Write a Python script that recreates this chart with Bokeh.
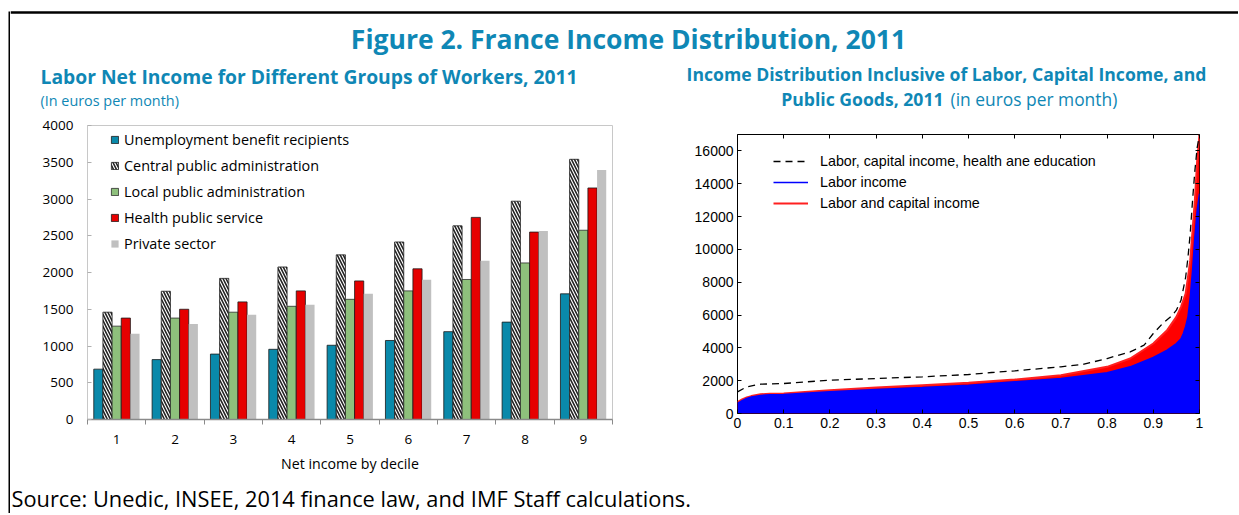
from bokeh.plotting import figure
from bokeh.models import (Range1d, Label, Span, Legend, LegendItem, FixedTicker,
                          ColumnDataSource, LinearAxis, CustomJSTickFormatter)
from bokeh.layouts import row, column
from bokeh.transform import dodge
from bokeh.embed import file_html
from bokeh.resources import INLINE

# ---------------- data: left chart ----------------
deciles = [1, 2, 3, 4, 5, 6, 7, 8, 9]
decile_bounds = [0.5, 1.5, 2.5, 3.5, 4.5, 5.5, 6.5, 7.5, 8.5, 9.5]
unemployment = [685, 815, 890, 955, 1010, 1075, 1195, 1325, 1710]
central = [1460, 1745, 1920, 2075, 2240, 2415, 2635, 2970, 3540]
local = [1270, 1380, 1460, 1540, 1635, 1750, 1905, 2130, 2575]
health = [1380, 1500, 1600, 1750, 1885, 2050, 2750, 2550, 3150]
private = [1165, 1300, 1425, 1560, 1710, 1900, 2160, 2565, 3395]
series_names = ["Unemployment benefit recipients", "Central public administration",
                "Local public administration", "Health public service", "Private sector"]
left_y_ticks = [0, 500, 1000, 1500, 2000, 2500, 3000, 3500, 4000]

# ---------------- data: right chart ----------------
percentile = [0, 0.01, 0.02, 0.03, 0.05, 0.07, 0.1, 0.2, 0.3, 0.4, 0.5, 0.6, 0.7, 0.8,
              0.85, 0.9, 0.93, 0.95, 0.96, 0.965, 0.97, 0.975, 0.98, 0.985, 0.99, 0.995, 1.0]
labor_income = [610, 780, 915, 1000, 1100, 1140, 1157, 1320, 1462, 1584, 1726, 1929, 2132, 2477,
                2843, 3411, 3858, 4264, 4550, 4873, 5300, 5888, 7100, 8730, 10760, 12386, 13400]
labor_capital_income = [700, 860, 975, 1060, 1170, 1205, 1218, 1421, 1584, 1726, 1868, 2071, 2335, 2843,
                        3350, 4264, 5076, 5888, 6497, 6900, 7300, 8300, 9343, 11168, 13000, 15431, 17000]
percentile_total = [0, 0.02, 0.05, 0.1, 0.2, 0.3, 0.4, 0.5, 0.55, 0.6, 0.7, 0.75, 0.8, 0.85,
                    0.88, 0.9, 0.92, 0.94, 0.95, 0.96, 0.97, 0.975, 0.98, 0.985, 0.99, 0.995, 1.0]
labor_capital_public = [1320, 1624, 1787, 1827, 2030, 2132, 2234, 2376, 2497, 2600, 2843, 3005, 3350,
                        3756, 4162, 4873, 5482, 5950, 6300, 6900, 8300, 9500, 11000, 13000, 14800, 16200, 17000]
right_y_ticks = [0, 2000, 4000, 6000, 8000, 10000, 12000, 14000, 16000]
right_x_ticks = [0, 0.1, 0.2, 0.3, 0.4, 0.5, 0.6, 0.7, 0.8, 0.9, 1.0]

# ---------------- styles ----------------
TEAL = "#0f87b5"
SANS = "Open Sans"
ARIAL = "Liberation Sans"

# ---------------- left border strip ----------------
strip = figure(width=10, height=513, output_backend="svg", toolbar_location=None,
               x_axis_type=None, y_axis_type=None, min_border=0, min_border_top=11,
               min_border_left=8, background_fill_color="black", border_fill_color="white",
               outline_line_color=None, frame_align=False)

# ---------------- header ----------------
head = figure(width=1228, height=115, output_backend="svg", toolbar_location=None,
              x_range=Range1d(0, 1228), y_range=Range1d(115, 0),
              x_axis_type=None, y_axis_type=None, min_border=0, outline_line_color=None,
              frame_align=False)
head.grid.visible = False
head.add_layout(Span(location=12, dimension="width", line_color="black", line_width=2.5))
head.add_layout(Label(x=618, y=38, text="Figure 2. France Income Distribution, 2011",
                      text_font=SANS, text_font_style="bold", text_font_size="26.5px",
                      text_color=TEAL, text_align="center", text_baseline="middle"))
head.add_layout(Label(x=30, y=76, text="Labor Net Income for Different Groups of Workers, 2011",
                      text_font=SANS, text_font_style="bold", text_font_size="19.3px",
                      text_color=TEAL, text_align="left", text_baseline="middle"))
head.add_layout(Label(x=30, y=100, text="(In euros per month)",
                      text_font=SANS, text_font_size="14.4px",
                      text_color=TEAL, text_align="left", text_baseline="middle"))
head.add_layout(Label(x=936, y=73, text="Income Distribution Inclusive of Labor, Capital Income, and",
                      text_font=SANS, text_font_style="bold", text_font_size="17.6px",
                      text_color=TEAL, text_align="center", text_baseline="middle"))
head.add_layout(Label(x=933, y=98, text="Public Goods, 2011",
                      text_font=SANS, text_font_style="bold", text_font_size="17.6px",
                      text_color=TEAL, text_align="right", text_baseline="middle"))
head.add_layout(Label(x=940, y=98, text="(in euros per month)",
                      text_font=SANS, text_font_size="17.4px",
                      text_color=TEAL, text_align="left", text_baseline="middle"))

# ---------------- left chart ----------------
src = ColumnDataSource(dict(decile=deciles, unemployment=unemployment, central=central,
                            local=local, health=health, private=private))
left = figure(width=630, height=363, output_backend="svg", toolbar_location=None,
              x_range=Range1d(0.5, 9.5), y_range=Range1d(0, 4000),
              min_border_left=77, min_border_right=28, min_border_top=10, min_border_bottom=59,
              outline_line_color="#c8c8c8", frame_align=False)
left.grid.visible = False
bw = 0.157
cols = ["unemployment", "central", "local", "health", "private"]
offsets = [-2 * bw, -bw, 0, bw, 2 * bw]
fills = ["#0a89aa", "white", "#8ec07c", "#e60000", "#c0c0c0"]
lines = ["#1a1a1a", "#1a1a1a", "#2a2a2a", "#1a1a1a", None]
renderers = []
for c, off, fc, lc in zip(cols, offsets, fills, lines):
    kw = {}
    if c == "central":
        kw = dict(hatch_pattern="\\", hatch_color="#222222", hatch_scale=6, hatch_weight=1.6)
    r = left.vbar(x=dodge("decile", off), top=c, width=bw, bottom=0, source=src,
                  fill_color=fc, line_color=lc, line_width=0.8, **kw)
    renderers.append(r)

left.yaxis.ticker = FixedTicker(ticks=left_y_ticks)
left.yaxis.axis_line_color = None
left.yaxis.major_tick_in = 4
left.yaxis.major_tick_out = 0
left.yaxis.major_tick_line_color = "#b0b0b0"
left.yaxis.minor_tick_line_color = None
left.yaxis.major_label_standoff = 14
left.yaxis.major_label_text_font = SANS
left.yaxis.major_label_text_font_size = "13.5px"
left.yaxis.major_label_text_color = "black"

left.xaxis.ticker = FixedTicker(ticks=deciles, minor_ticks=decile_bounds)
left.xaxis.axis_line_color = "#8a8a8a"
left.xaxis.axis_line_width = 1.5
left.xaxis.major_tick_line_color = None
left.xaxis.minor_tick_line_color = "#8a8a8a"
left.xaxis.minor_tick_in = 0
left.xaxis.minor_tick_out = 5
left.xaxis.major_label_standoff = 9
left.xaxis.major_label_text_font = SANS
left.xaxis.major_label_text_font_size = "13.5px"
left.xaxis.major_label_text_color = "black"
left.xaxis.axis_label = "Net income by decile"
left.xaxis.axis_label_text_font = SANS
left.xaxis.axis_label_text_font_size = "14.2px"
left.xaxis.axis_label_text_font_style = "normal"
left.xaxis.axis_label_text_color = "black"
left.xaxis.axis_label_standoff = 7

leg = Legend(items=[LegendItem(label=n, renderers=[r]) for n, r in zip(series_names, renderers)],
             location=(23, 166), glyph_width=9, glyph_height=9, label_height=20,
             spacing=6, padding=0, margin=0, label_standoff=5,
             label_text_font=SANS, label_text_font_size="14.4px", label_text_color="black",
             border_line_color=None, background_fill_alpha=0)
left.add_layout(leg)

# ---------------- right chart ----------------
right = figure(width=591, height=363, output_backend="svg", toolbar_location=None,
               x_range=Range1d(0, 1), y_range=Range1d(0, 17000),
               min_border_left=97, min_border_right=32, min_border_top=19, min_border_bottom=65,
               outline_line_color="black", outline_line_width=1, frame_align=False)
right.grid.visible = False
right.varea(x=percentile, y1=0, y2=labor_capital_income, fill_color="#ff0000")
right.varea(x=percentile, y1=0, y2=labor_income, fill_color="#0000ff")
r_red = right.line(x=percentile, y=labor_capital_income, line_color="#ff2020", line_width=2)
r_blue = right.line(x=percentile, y=labor_income, line_color="#0000ff", line_width=1.5)
r_dash = right.line(x=percentile_total, y=labor_capital_public, line_color="black",
                    line_width=1.3, line_dash="7 5")

fmt_x = CustomJSTickFormatter(code="return tick.toFixed(1).replace(/\\.0$/, '');")
blank = CustomJSTickFormatter(code="return '';")
for ax in (right.xaxis[0], right.yaxis[0]):
    ax.axis_line_color = None
    ax.major_tick_in = 4
    ax.major_tick_out = 0
    ax.major_tick_line_color = "black"
    ax.minor_tick_line_color = None
    ax.major_label_text_font = ARIAL
    ax.major_label_text_font_size = "14px"
    ax.major_label_text_color = "black"
right.xaxis.ticker = FixedTicker(ticks=right_x_ticks)
right.xaxis.formatter = fmt_x
right.xaxis.major_label_standoff = 4
right.yaxis.ticker = FixedTicker(ticks=right_y_ticks)
right.yaxis.major_label_standoff = 4

top_ax = LinearAxis(ticker=FixedTicker(ticks=right_x_ticks), formatter=blank,
                    axis_line_color=None, major_tick_in=4, major_tick_out=0,
                    minor_tick_line_color=None, major_label_standoff=0)
right_ax = LinearAxis(ticker=FixedTicker(ticks=right_y_ticks), formatter=blank,
                      axis_line_color=None, major_tick_in=4, major_tick_out=0,
                      minor_tick_line_color=None, major_label_standoff=0)
right.add_layout(top_ax, "above")
right.add_layout(right_ax, "right")

leg2 = Legend(items=[LegendItem(label="Labor, capital income, health ane education", renderers=[r_dash]),
                     LegendItem(label="Labor income", renderers=[r_blue]),
                     LegendItem(label="Labor and capital income", renderers=[r_red])],
              location=(36, 200), glyph_width=35, glyph_height=20, label_height=20,
              spacing=1, padding=0, margin=0, label_standoff=12,
              label_text_font=ARIAL, label_text_font_size="14.3px", label_text_color="black",
              border_line_color=None, background_fill_alpha=0)
right.add_layout(leg2)

# ---------------- footer ----------------
foot = figure(width=1221, height=35, output_backend="svg", toolbar_location=None,
              x_range=Range1d(0, 1221), y_range=Range1d(35, 0),
              x_axis_type=None, y_axis_type=None, min_border=0, outline_line_color=None,
              frame_align=False)
foot.grid.visible = False
foot.add_layout(Label(x=1, y=20, text="Source: Unedic, INSEE, 2014 finance law, and IMF Staff calculations.",
                      text_font=SANS, text_font_size="21.8px", text_color="black",
                      text_align="left", text_baseline="middle"))

layout = row(strip, column(head, row(left, right), foot))
open("out.html", "w").write(file_html(layout, INLINE))
